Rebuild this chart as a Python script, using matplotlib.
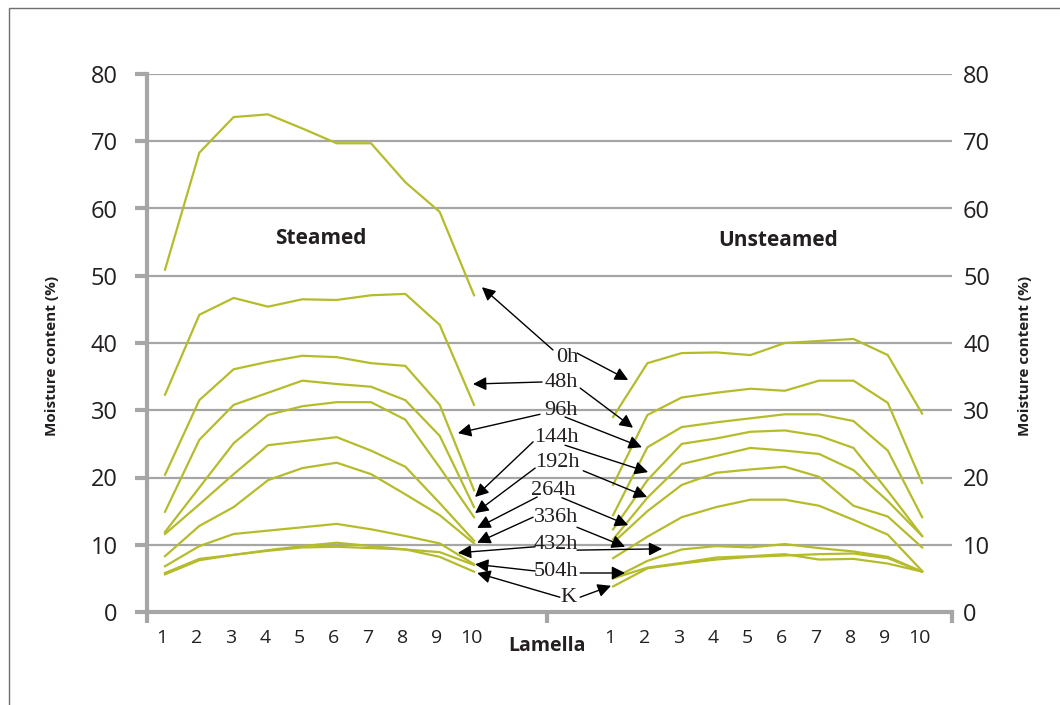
import matplotlib
matplotlib.use("Agg")
import matplotlib.pyplot as plt
from matplotlib.patches import Rectangle

# lamella numbers (1..10) for both boards
lamella = list(range(1, 11))
hours = ["0h", "48h", "96h", "144h", "192h", "264h", "336h", "432h", "504h", "K"]

# moisture content (%) per drying time, steamed board
steamed_0h = [50.9, 68.3, 73.6, 74.0, 71.9, 69.7, 69.7, 63.9, 59.5, 47.1]
steamed_48h = [32.3, 44.2, 46.7, 45.4, 46.5, 46.4, 47.1, 47.3, 42.7, 30.8]
steamed_96h = [20.4, 31.5, 36.1, 37.2, 38.1, 37.9, 37.0, 36.6, 30.8, 18.1]
steamed_144h = [14.9, 25.6, 30.8, 32.6, 34.4, 33.9, 33.5, 31.5, 26.2, 15.6]
steamed_192h = [11.9, 18.5, 25.1, 29.3, 30.6, 31.2, 31.2, 28.6, 21.5, 14.1]
steamed_264h = [11.6, 16.0, 20.5, 24.8, 25.4, 26.0, 24.0, 21.6, 16.2, 10.6]
steamed_336h = [8.3, 12.8, 15.6, 19.6, 21.4, 22.2, 20.5, 17.5, 14.4, 10.2]
steamed_432h = [6.8, 9.8, 11.6, 12.1, 12.6, 13.1, 12.3, 11.3, 10.2, 7.1]
steamed_504h = [5.8, 7.9, 8.5, 9.1, 9.6, 9.7, 9.5, 9.3, 8.9, 7.0]
steamed_K = [5.6, 7.7, 8.5, 9.2, 9.8, 10.3, 9.8, 9.3, 8.2, 6.0]

# moisture content (%) per drying time, unsteamed board
unsteamed_0h = [29.0, 37.0, 38.5, 38.6, 38.2, 40.0, 40.3, 40.6, 38.2, 29.5]
unsteamed_48h = [18.9, 29.3, 31.9, 32.6, 33.2, 32.9, 34.4, 34.4, 31.1, 19.2]
unsteamed_96h = [14.4, 24.5, 27.5, 28.2, 28.8, 29.4, 29.4, 28.4, 24.0, 14.1]
unsteamed_144h = [12.3, 19.6, 25.0, 25.8, 26.8, 27.0, 26.2, 24.4, 18.0, 11.3]
unsteamed_192h = [10.8, 17.0, 22.0, 23.2, 24.4, 24.0, 23.5, 21.1, 16.5, 11.3]
unsteamed_264h = [10.3, 15.0, 18.9, 20.7, 21.2, 21.6, 20.1, 15.8, 14.2, 9.6]
unsteamed_336h = [8.0, 11.2, 14.1, 15.6, 16.7, 16.7, 15.8, 13.7, 11.5, 6.1]
unsteamed_432h = [5.0, 7.6, 9.3, 9.8, 9.6, 10.1, 9.5, 9.0, 8.2, 6.0]
unsteamed_504h = [5.0, 6.6, 7.3, 8.1, 8.3, 8.6, 7.8, 7.9, 7.2, 6.0]
unsteamed_K = [3.8, 6.5, 7.2, 7.8, 8.2, 8.4, 8.6, 8.7, 8.0, 6.0]

steamed = [steamed_0h, steamed_48h, steamed_96h, steamed_144h, steamed_192h,
           steamed_264h, steamed_336h, steamed_432h, steamed_504h, steamed_K]
unsteamed = [unsteamed_0h, unsteamed_48h, unsteamed_96h, unsteamed_144h, unsteamed_192h,
             unsteamed_264h, unsteamed_336h, unsteamed_432h, unsteamed_504h, unsteamed_K]

# layout: unsteamed board drawn to the right of the steamed one
RIGHT_SHIFT = 13.05
XLIM = (0.476, 23.92)
MID_TICK = 12.13

LINE_COLOR = "#B5BC2C"
GRID_COLOR = "#A6A6A6"
TEXT_COLOR = "#231F20"

# label centre, left arrow (start, tip), right arrow (start, tip) in data coords
ANNOT = [
    ((12.71, 37.9), (12.30, 38.96), (10.23, 48.3), (13.00, 38.5), (14.49, 34.5)),
    ((12.54, 34.2), (11.98, 34.2), (9.97, 33.9), (13.09, 33.3), (14.63, 27.4)),
    ((12.54, 30.0), (11.92, 29.4), (9.53, 26.6), (12.65, 29.0), (14.89, 24.5)),
    ((12.39, 26.0), (11.72, 25.3), (10.03, 17.1), (12.65, 24.8), (15.07, 20.8)),
    ((12.42, 22.2), (11.78, 21.4), (10.03, 14.7), (13.18, 21.0), (15.04, 17.1)),
    ((12.30, 18.1), (11.84, 17.1), (10.09, 12.5), (12.56, 17.0), (14.49, 12.9)),
    ((12.39, 14.1), (11.72, 14.1), (10.09, 10.3), (13.00, 12.6), (14.40, 9.7)),
    ((12.39, 10.1), (11.78, 9.7), (9.53, 8.8), (13.00, 9.2), (15.48, 9.4)),
    ((12.39, 5.95), (11.78, 6.1), (10.03, 7.1), (13.09, 5.8), (14.40, 5.8)),
    ((12.74, 2.1), (12.50, 2.2), (10.09, 5.8), (13.09, 2.2), (13.99, 3.9)),
]

fig = plt.figure(figsize=(10.6, 7.05), dpi=100)
ax = fig.add_axes([147 / 1060, 1 - 612 / 705, (952 - 147) / 1060, (612 - 74) / 705])

x_left = lamella
x_right = [i + RIGHT_SHIFT for i in lamella]
for row in steamed:
    ax.plot(x_left, row, color=LINE_COLOR, lw=1.6, zorder=3)
for row in unsteamed:
    ax.plot(x_right, row, color=LINE_COLOR, lw=1.6, zorder=3)

ax.set_xlim(*XLIM)
ax.set_ylim(0, 80)
ax.set_yticks(range(0, 90, 10))
ax.yaxis.grid(True, color=GRID_COLOR, lw=1.6)
ax.set_axisbelow(True)

for side in ["top", "right"]:
    ax.spines[side].set_visible(False)
for side in ["left", "bottom"]:
    ax.spines[side].set_color(GRID_COLOR)
    ax.spines[side].set_linewidth(3)

ax.tick_params(axis="y", direction="out", length=9, width=3, color=GRID_COLOR,
               labelsize=17, labelcolor=TEXT_COLOR, pad=12)
for lab in ax.get_yticklabels():
    lab.set_fontfamily("Open Sans")

# major x ticks: only the small marks at the ends and the middle
ax.set_xticks([XLIM[0], MID_TICK, XLIM[1]])
ax.set_xticklabels([])
ax.tick_params(axis="x", which="major", direction="out", length=8, width=3,
               color=GRID_COLOR)
# minor x ticks carry the lamella numbers
ax.set_xticks([i - 0.09 for i in x_left] + [i - 0.09 for i in x_right], minor=True)
ax.set_xticklabels([str(i) for i in lamella] * 2, minor=True)
ax.tick_params(axis="x", which="minor", length=0, labelsize=14, pad=12,
               labelcolor=TEXT_COLOR)
for lab in ax.get_xticklabels(minor=True):
    lab.set_fontfamily("Open Sans")

# right-hand copy of the y labels
ax2 = ax.twinx()
ax2.set_ylim(0, 80)
ax2.set_yticks(range(0, 90, 10))
for side in ax2.spines:
    ax2.spines[side].set_visible(False)
ax2.tick_params(axis="y", length=0, labelsize=17, labelcolor=TEXT_COLOR, pad=8)
for lab in ax2.get_yticklabels():
    lab.set_fontfamily("Open Sans")

ax.text(5.55, 55.6, "Steamed", ha="center", va="center", fontsize=15,
        fontweight="bold", family="Open Sans", color=TEXT_COLOR)
ax.text(18.86, 55.2, "Unsteamed", ha="center", va="center", fontsize=15,
        fontweight="bold", family="Open Sans", color=TEXT_COLOR)

# drying-time labels with arrows to both boards
for h, (c, ls, lt, rs, rt) in zip(hours, ANNOT):
    ax.text(c[0], c[1], h, ha="center", va="center", fontsize=16,
            family="Liberation Serif", color=TEXT_COLOR, zorder=5)
    for s, t in [(ls, lt), (rs, rt)]:
        ax.annotate("", xy=t, xytext=s,
                    arrowprops=dict(arrowstyle="-|>", color="black", lw=1.0,
                                    mutation_scale=20, shrinkA=0, shrinkB=0),
                    zorder=4)

fig.text(547 / 1060, 1 - 646 / 705, "Lamella", ha="center", va="center",
         fontsize=14, fontweight="bold", family="Open Sans", color=TEXT_COLOR)
fig.text(52 / 1060, 1 - 356 / 705, "Moisture content (%)", rotation=90,
         ha="center", va="center", fontsize=11, fontweight="bold",
         family="Open Sans", color=TEXT_COLOR)
fig.text(1025 / 1060, 1 - 356 / 705, "Moisture content (%)", rotation=90,
         ha="center", va="center", fontsize=11, fontweight="bold",
         family="Open Sans", color=TEXT_COLOR)

# thin frame around the figure (only left and top edges visible)
fig.add_artist(Rectangle((9 / 1060, -0.5), 2, 1.5 - 8 / 705, transform=fig.transFigure,
                         fill=False, edgecolor="#6D6E71", lw=1.0))

fig.savefig("out.png", dpi=100)
